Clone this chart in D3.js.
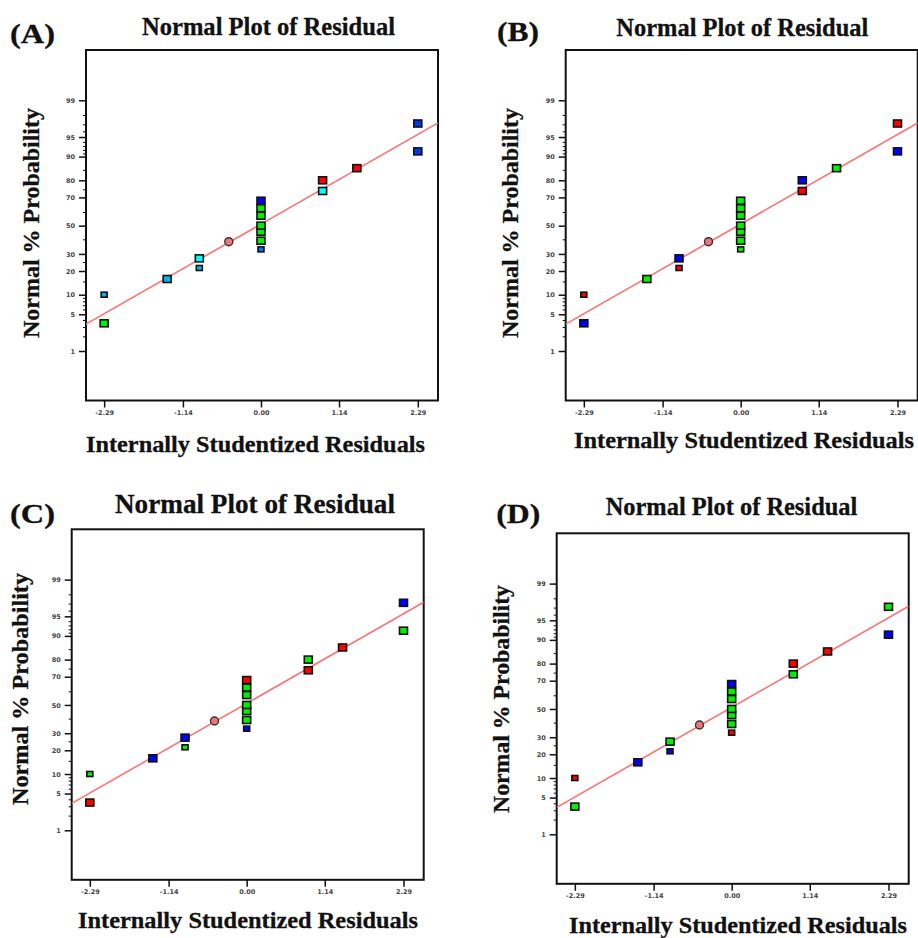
<!DOCTYPE html>
<html>
<head>
<meta charset="utf-8">
<script src="https://cdn.jsdelivr.net/npm/d3@7/dist/d3.min.js"></script>
<style>
  body { margin: 0; background: #fff; }
  .tick text { font-family: "DejaVu Sans", sans-serif; font-size: 6.5px; font-weight: bold; fill: #444; }
  .tick line { stroke: #111; stroke-width: 1.5; }
  .lbl { font-family: "Liberation Serif", "Times New Roman", serif; font-weight: bold; fill: #111; stroke: #111; stroke-width: 0.3; }
</style>
</head>
<body>
<div id="chart"></div>
<script>
// residuals and normal % probability, same for all four panels
var residuals = [-2.29, -2.29, -1.37, -0.90, -0.90, 0.00, -0.47, 0.00, 0.00, 0.00, 0.00, 0.00, 0.00, 0.90, 0.90, 1.40, 2.29, 2.29];
var probabilities = [3.5, 10, 16.1, 21.6, 27.2, 33, 38.3, 39, 45.5, 50, 57.3, 62.7, 67.8, 74, 80, 85.7, 91.6, 97.1];

// colour code of each point (o = the circle)
var colorsA = ["g", "sb", "sb", "sb", "c", "mb", "o", "g", "g", "g", "g", "g", "b", "c", "r", "r", "db", "db"];
var colorsB = ["b", "r", "g", "r", "b", "g", "o", "g", "g", "g", "g", "g", "g", "r", "b", "g", "b", "r"];
var colorsC = ["r", "g", "b", "g", "b", "b", "o", "g", "g", "g", "g", "g", "r", "r", "g", "r", "g", "b"];
var colorsD = ["g", "r", "b", "b", "g", "r", "o", "g", "g", "g", "g", "g", "b", "g", "r", "r", "b", "g"];

var probTicks = [1, 5, 10, 20, 30, 50, 70, 80, 90, 95, 99];
var probMinor = [2, 3, 4, 6, 7, 8, 9, 15, 25, 40, 60, 75, 85, 91, 92, 93, 94, 96, 97, 98];
var residTicks = [-2.29, -1.14, 0, 1.14, 2.29];
var residLabels = ["-2.29", "-1.14", "0.00", "1.14", "2.29"];

// fitted normal line, ends
var fitX = [-2.57, 2.57];
var fitP = [3.3, 97.1];

var panelLetters = ["(A)", "(B)", "(C)", "(D)"];
var titleText = "Normal Plot of Residual";
var xTitle = "Internally Studentized Residuals";
var yTitle = "Normal % Probability";

var palette = {
  g: "#00f000", r: "#ff0000", b: "#0000ff", c: "#00ffff",
  sb: "#00b4f0", mb: "#0070ff", db: "#0038e8", o: "#f07676"
};
var smallPts = [1, 3, 5];

var width = 918, height = 938;
var boxW = 352, boxH = 350.5;

var panels = [
  {colors: colorsA, left: 86, top: 50,
   letter: [10, 42.7, 45, 27], title: [268.5, 35, 253, 25], ylab: [39.3, 223, 230], xlab: [255.5, 451.7, 339]},
  {colors: colorsB, left: 565.7, top: 50,
   letter: [497, 40.5, 42, 27], title: [742.3, 36, 252, 25], ylab: [518.3, 223, 230], xlab: [744, 448, 340]},
  {colors: colorsC, left: 71.7, top: 529.3,
   letter: [10, 522.7, 45, 27], title: [255, 512.7, 280, 27], ylab: [28.3, 689, 232], xlab: [248, 928.3, 340]},
  {colors: colorsD, left: 556.7, top: 533.3,
   letter: [496.3, 523.3, 44, 27], title: [731.5, 515, 251.6, 25], ylab: [509, 699, 228], xlab: [738, 932.7, 338]}
];

function qnorm(p) {
  var a = [-3.969683028665376e+01, 2.209460984245205e+02, -2.759285104469687e+02, 1.383577518672690e+02, -3.066479806614716e+01, 2.506628277459239e+00];
  var b = [-5.447609879822406e+01, 1.615858368580409e+02, -1.556989798598866e+02, 6.680131188771972e+01, -1.328068155288572e+01];
  var c = [-7.784894002430293e-03, -3.223964580411365e-01, -2.400758277161838e+00, -2.549732539343734e+00, 4.374664141464968e+00, 2.938163982698783e+00];
  var d = [7.784695709041462e-03, 3.224671290700398e-01, 2.445134137142996e+00, 3.754408661907416e+00];
  var pl = 0.02425, q, r;
  if (p < pl) {
    q = Math.sqrt(-2 * Math.log(p));
    return (((((c[0]*q+c[1])*q+c[2])*q+c[3])*q+c[4])*q+c[5]) / ((((d[0]*q+d[1])*q+d[2])*q+d[3])*q+1);
  }
  if (p > 1 - pl) {
    q = Math.sqrt(-2 * Math.log(1 - p));
    return -(((((c[0]*q+c[1])*q+c[2])*q+c[3])*q+c[4])*q+c[5]) / ((((d[0]*q+d[1])*q+d[2])*q+d[3])*q+1);
  }
  q = p - 0.5; r = q * q;
  return (((((a[0]*r+a[1])*r+a[2])*r+a[3])*r+a[4])*r+a[5])*q / (((((b[0]*r+b[1])*r+b[2])*r+b[3])*r+b[4])*r+1);
}
function z(p) { return qnorm(p / 100); }

var x = d3.scaleLinear().domain([-2.555, 2.585]).range([0, boxW]);
var y = d3.scaleLinear().domain([-3.245, 3.26]).range([boxH, 0]);

var svg = d3.select("#chart").append("svg")
  .attr("width", width)
  .attr("height", height);

function fitText(sel, w) {
  sel.attr("textLength", w).attr("lengthAdjust", "spacingAndGlyphs");
}
function markW(d) { return smallPts.indexOf(d.i) >= 0 ? 6 : 8; }
function markH(d) { return smallPts.indexOf(d.i) >= 0 ? 5 : 7; }

panels.forEach(function(p, k) {
  // texts
  svg.append("text").attr("class", "lbl")
    .attr("x", p.letter[0]).attr("y", p.letter[1])
    .style("font-size", p.letter[3] + "px")
    .text(panelLetters[k]).call(fitText, p.letter[2]);

  svg.append("text").attr("class", "lbl")
    .attr("x", p.title[0] - p.title[2] / 2).attr("y", p.title[1])
    .style("font-size", p.title[3] + "px")
    .text(titleText).call(fitText, p.title[2]);

  svg.append("text").attr("class", "lbl")
    .attr("transform", "translate(" + p.ylab[0] + "," + (p.ylab[1] + p.ylab[2] / 2) + ") rotate(-90)")
    .style("font-size", "24px")
    .text(yTitle).call(fitText, p.ylab[2]);

  svg.append("text").attr("class", "lbl")
    .attr("x", p.xlab[0] - p.xlab[2] / 2).attr("y", p.xlab[1])
    .style("font-size", "24px")
    .text(xTitle).call(fitText, p.xlab[2]);

  var g = svg.append("g").attr("transform", "translate(" + p.left + "," + p.top + ")");

  // axes
  var yMinor = g.append("g").call(d3.axisLeft(y)
    .tickValues(probMinor.map(z)).tickSize(3).tickFormat(""));
  var yAxis = g.append("g").call(d3.axisLeft(y)
    .tickValues(probTicks.map(z)).tickSize(7).tickPadding(4)
    .tickFormat(function(d, i) { return probTicks[i]; }));
  var xAxis = g.append("g").attr("transform", "translate(0," + boxH + ")")
    .call(d3.axisBottom(x).tickValues(residTicks).tickSize(7).tickPadding(3)
      .tickFormat(function(d, i) { return residLabels[i]; }));
  [yMinor, yAxis, xAxis].forEach(function(a) { a.select(".domain").remove(); });
  yMinor.selectAll("line").style("stroke-width", 1);

  g.append("rect")
    .attr("width", boxW).attr("height", boxH)
    .attr("fill", "none").attr("stroke", "#111").attr("stroke-width", 2);

  // fit line, clipped to box
  var clipId = "clip" + k;
  g.append("clipPath").attr("id", clipId).append("rect")
    .attr("width", boxW).attr("height", boxH);
  var slope = (z(fitP[1]) - z(fitP[0])) / (fitX[1] - fitX[0]);
  var ext = x.domain().map(function(v) { return [v, z(fitP[0]) + slope * (v - fitX[0])]; });
  g.append("path")
    .attr("clip-path", "url(#" + clipId + ")")
    .datum(ext)
    .attr("d", d3.line().x(function(d) { return x(d[0]); }).y(function(d) { return y(d[1]); }))
    .attr("fill", "none").attr("stroke", "#ff7070").attr("stroke-width", 1.6);

  // points
  var pts = residuals.map(function(r, i) {
    return {r: r, p: probabilities[i], c: p.colors[i], i: i};
  });
  g.selectAll(".pt").data(pts.filter(function(d) { return d.c !== "o"; }))
    .enter().append("rect")
    .attr("class", "pt")
    .attr("x", function(d) { return x(d.r) - markW(d) / 2; })
    .attr("y", function(d) { return y(z(d.p)) - markH(d) / 2; })
    .attr("width", markW)
    .attr("height", markH)
    .attr("fill", function(d) { return palette[d.c]; })
    .attr("stroke", "#111").attr("stroke-width", 1.6);

  g.selectAll(".circ").data(pts.filter(function(d) { return d.c === "o"; }))
    .enter().append("circle")
    .attr("class", "circ")
    .attr("cx", function(d) { return x(d.r); })
    .attr("cy", function(d) { return y(z(d.p)); })
    .attr("r", 4)
    .attr("fill", palette.o).attr("stroke", "#333").attr("stroke-width", 1.4);
});
</script>
</body>
</html>
